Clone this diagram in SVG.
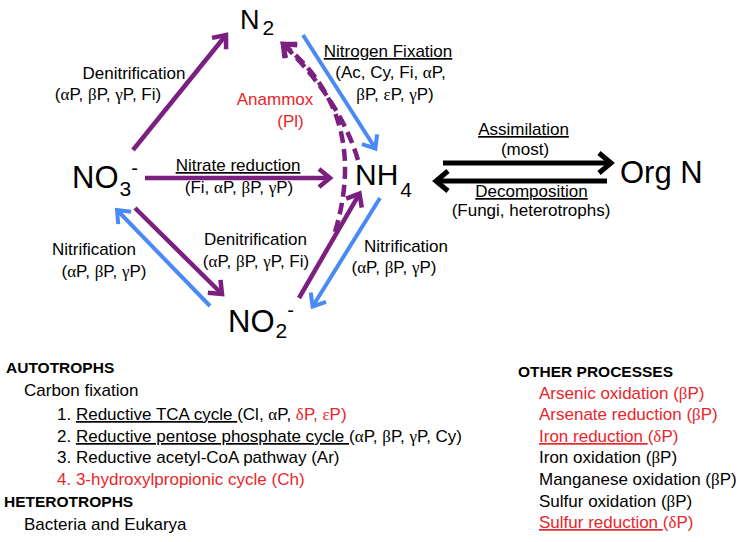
<svg xmlns="http://www.w3.org/2000/svg" width="742" height="542" viewBox="0 0 742 542">
<style>
.t{font-family:"Liberation Sans",Arial,sans-serif;font-size:17px;fill:#000}
.m{text-anchor:middle}
.g{font-family:"Liberation Serif","DejaVu Serif",serif}
.r{fill:#E8262B}
.u{text-decoration:underline}
.h{font-weight:bold;font-size:15.5px}
.nd{font-family:"Liberation Sans",Arial,sans-serif;fill:#000}
.p{stroke:#7B1F80;stroke-width:4.5;fill:none}
.bl{stroke:#4A8AF4;stroke-width:4;fill:none}
.k{stroke:#000;stroke-width:5;fill:none}
.d{stroke-dasharray:12 6}
</style>
<defs>
<marker id="mp" markerUnits="userSpaceOnUse" viewBox="-16 -13 20 26" markerWidth="20" markerHeight="26" refX="0" refY="0" orient="auto" style="overflow:visible">
<path d="M-11,-9 L0,0 L-11,9" fill="none" stroke="#7B1F80" stroke-width="4.5"/>
</marker>
<marker id="mb" markerUnits="userSpaceOnUse" viewBox="-16 -13 20 26" markerWidth="20" markerHeight="26" refX="0" refY="0" orient="auto" style="overflow:visible">
<path d="M-11,-9 L0,0 L-11,9" fill="none" stroke="#4A8AF4" stroke-width="4"/>
</marker>
<marker id="mk" markerUnits="userSpaceOnUse" viewBox="-16 -13 20 26" markerWidth="20" markerHeight="26" refX="0" refY="0" orient="auto" style="overflow:visible">
<path d="M-12,-10 L0,0 L-12,10" fill="none" stroke="#000" stroke-width="5"/>
</marker>
</defs>

<g id="connectors">
<line class="p" x1="133" y1="150" x2="226" y2="35" marker-end="url(#mp)"/>
<line class="p" x1="145" y1="178" x2="330" y2="178" marker-end="url(#mp)"/>
<line class="p" x1="135" y1="208" x2="222" y2="294" marker-end="url(#mp)"/>
<line class="bl" x1="210" y1="306" x2="117" y2="210" marker-end="url(#mb)"/>
<line class="p" x1="299" y1="298" x2="359.5" y2="193.6" marker-end="url(#mp)"/>
<line class="bl" x1="380" y1="198" x2="312.6" y2="306.5" marker-end="url(#mb)"/>
<line class="bl" x1="303" y1="35" x2="375.4" y2="148.5" marker-end="url(#mb)"/>
<line class="k" x1="443" y1="163" x2="611" y2="163" marker-end="url(#mk)"/>
<line class="k" x1="607" y1="181" x2="436" y2="181" marker-end="url(#mk)"/>
<path class="p d" d="M335,232 Q370,115 283,44" marker-end="url(#mp)"/>
<path class="p d" d="M358,160 Q340,100 283,44" marker-end="url(#mp)"/>
</g>

<g id="n2"><text class="nd" x="240" y="29" font-size="27">N<tspan font-size="21" dx="3" dy="6">2</tspan></text></g>
<g id="no3"><text class="nd" x="72" y="188" font-size="31">NO<tspan font-size="21" dx="1" dy="8">3</tspan><tspan font-size="20" dy="-21">-</tspan></text></g>
<g id="nh4"><text class="nd" x="355" y="185" font-size="30">NH<tspan font-size="21" dx="2" dy="12">4</tspan></text></g>
<g id="no2"><text class="nd" x="228" y="332" font-size="31">NO<tspan font-size="21" dx="1" dy="6">2</tspan><tspan font-size="20" dy="-21">-</tspan></text></g>
<g id="orgn"><text class="nd" x="620" y="183" font-size="31">Org N</text></g>

<g id="edge-labels">
<text class="t m" x="134" y="79">Denitrification</text>
<text class="t m" x="108" y="100">(<tspan class="g">α</tspan>P, <tspan class="g">β</tspan>P, <tspan class="g">γ</tspan>P, Fi)</text>
<text class="t m r" x="275" y="105">Anammox</text>
<text class="t m r" x="290.5" y="127">(Pl)</text>
<text class="t m u" x="388" y="57">Nitrogen Fixation</text>
<text class="t m" x="390.5" y="78">(Ac, Cy, Fi, <tspan class="g">α</tspan>P,</text>
<text class="t m" x="395" y="100"><tspan class="g">β</tspan>P, <tspan class="g">ε</tspan>P, <tspan class="g">γ</tspan>P)</text>
<text class="t m u" x="238" y="171">Nitrate reduction</text>
<text class="t m" x="239" y="193">(Fi, <tspan class="g">α</tspan>P, <tspan class="g">β</tspan>P, <tspan class="g">γ</tspan>P)</text>
<text class="t m u" x="523.5" y="135">Assimilation</text>
<text class="t m" x="525" y="155">(most)</text>
<text class="t m u" x="531.5" y="197">Decomposition</text>
<text class="t m" x="531" y="216">(Fungi, heterotrophs)</text>
<text class="t m" x="94" y="255">Nitrification</text>
<text class="t m" x="104" y="277">(<tspan class="g">α</tspan>P, <tspan class="g">β</tspan>P, <tspan class="g">γ</tspan>P)</text>
<text class="t m" x="255.5" y="245">Denitrification</text>
<text class="t m" x="256" y="267">(<tspan class="g">α</tspan>P, <tspan class="g">β</tspan>P, <tspan class="g">γ</tspan>P, Fi)</text>
<text class="t m" x="406" y="252">Nitrification</text>
<text class="t m" x="394" y="273">(<tspan class="g">α</tspan>P, <tspan class="g">β</tspan>P, <tspan class="g">γ</tspan>P)</text>
</g>

<g id="organisms">
<text class="t h" x="6" y="373">AUTOTROPHS</text>
<text class="t" x="24" y="396">Carbon fixation</text>
<text class="t" x="57" y="420">1. <tspan class="u">Reductive TCA cycle </tspan>(Cl, <tspan class="g">α</tspan>P, <tspan class="r"><tspan class="g">δ</tspan>P, <tspan class="g">ε</tspan>P)</tspan></text>
<text class="t" x="57" y="442">2. <tspan class="u">Reductive pentose phosphate cycle </tspan>(<tspan class="g">α</tspan>P, <tspan class="g">β</tspan>P, <tspan class="g">γ</tspan>P, Cy)</text>
<text class="t" x="57" y="463">3. Reductive acetyl-CoA pathway (Ar)</text>
<text class="t r" x="57" y="485">4. 3-hydroxylpropionic cycle (Ch)</text>
<text class="t h" x="4" y="507">HETEROTROPHS</text>
<text class="t" x="24" y="530">Bacteria and Eukarya</text>
</g>

<g id="other-processes">
<text class="t h" x="518" y="377">OTHER PROCESSES</text>
<text class="t r" x="539" y="399">Arsenic oxidation (<tspan class="g">β</tspan>P)</text>
<text class="t r" x="539" y="420">Arsenate reduction (<tspan class="g">β</tspan>P)</text>
<text class="t r" x="539" y="442"><tspan class="u">Iron reduction </tspan>(<tspan class="g">δ</tspan>P)</text>
<text class="t" x="539" y="463">Iron oxidation (<tspan class="g">β</tspan>P)</text>
<text class="t" x="539" y="485">Manganese oxidation (<tspan class="g">β</tspan>P)</text>
<text class="t" x="539" y="507">Sulfur oxidation (<tspan class="g">β</tspan>P)</text>
<text class="t r" x="539" y="528"><tspan class="u">Sulfur reduction </tspan>(<tspan class="g">δ</tspan>P)</text>
</g>
</svg>
